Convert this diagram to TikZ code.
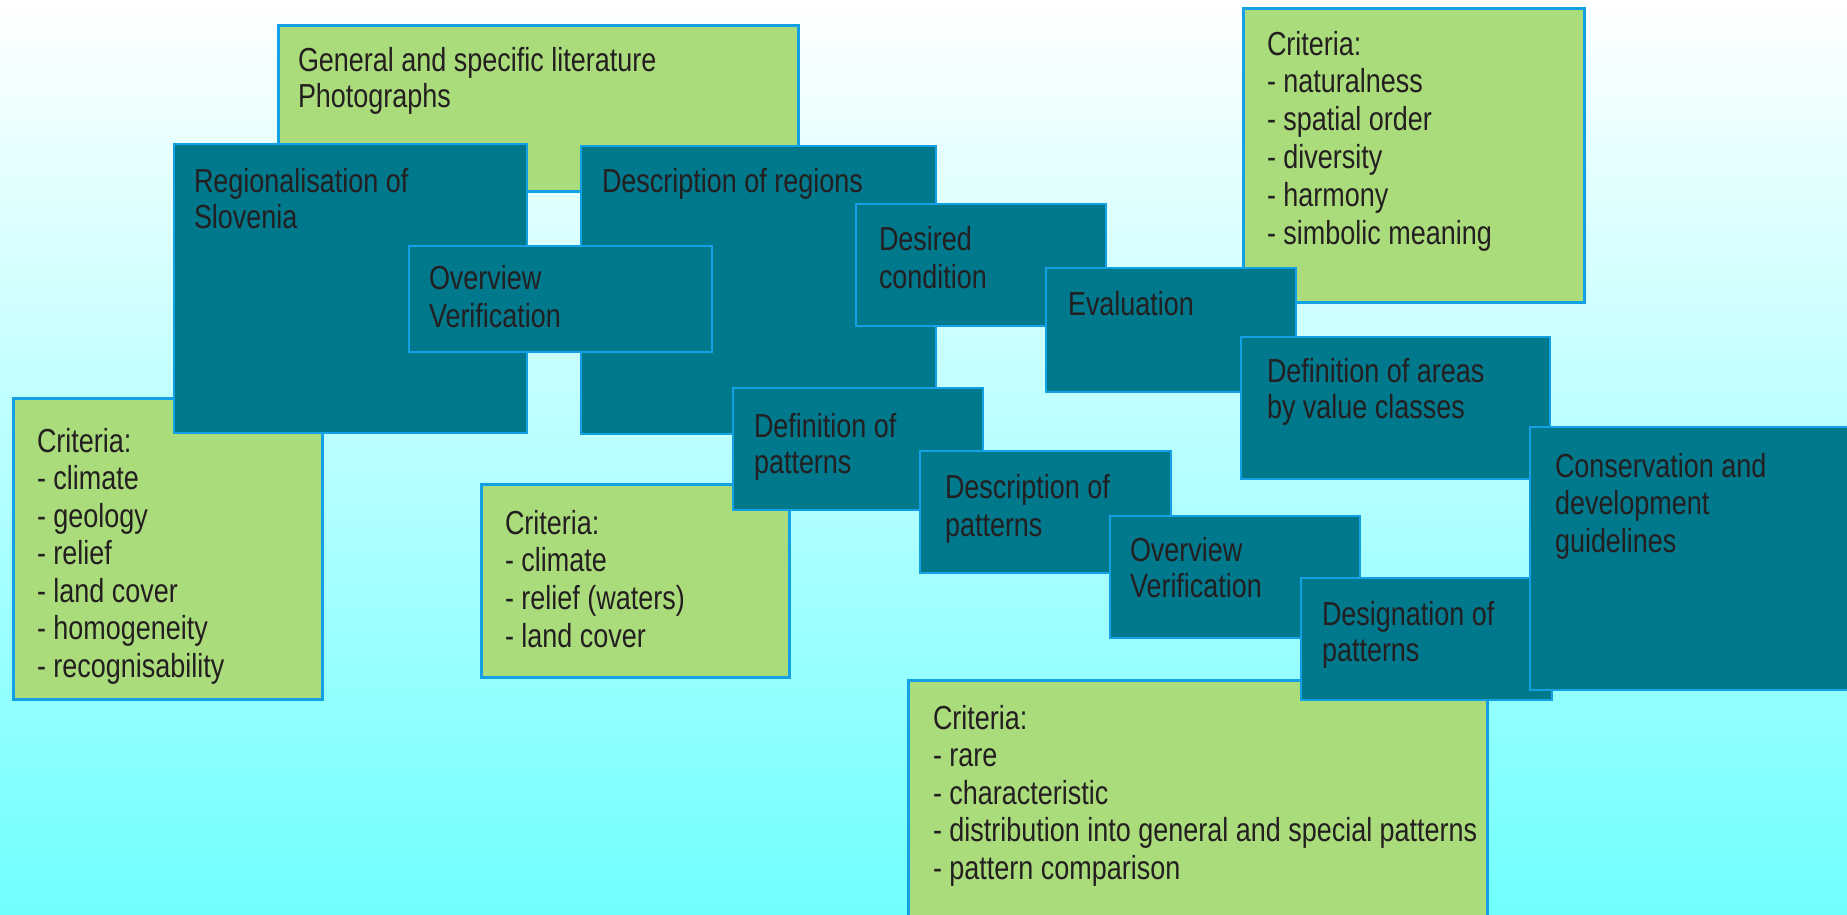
\documentclass[tikz,border=0pt]{standalone}
\usepackage{fontspec}
\setmainfont{Liberation Sans}[FakeStretch=0.81]
\definecolor{teal}{HTML}{00798D}
\definecolor{leaf}{HTML}{ABDC7B}
\definecolor{edge}{HTML}{13A0E4}
\definecolor{bgc}{HTML}{70FFFF}
\definecolor{ink}{HTML}{231F20}
\tikzset{
  greenbox/.style={draw=edge, line width=3pt, fill=leaf, inner sep=0pt, outer sep=0pt},
  tealbox/.style={draw=edge, line width=1.2pt, fill=teal, inner sep=0pt, outer sep=0pt},
  txt/.style={inner sep=0pt, outer sep=0pt, text=ink}
}
\newcommand\bx[6]{%
  \node[#1, anchor=north west, minimum width={#5-#3}, minimum height={#6-#4}] (#2) at (#3,#4) {};}
\newcommand\tx[5]{%
  \node[txt, anchor=base west] (#1-t) at ([xshift=#2pt, yshift=-#3pt]#1.north west)
    {\parbox[t]{30cm}{\fontsize{33.3}{#4}\selectfont\raggedright #5}};}
\begin{document}
\begin{tikzpicture}[x=1pt,y=-1pt]
\useasboundingbox (0,0) rectangle (1847,914);
\clip (0,0) rectangle (1847,914);
\shade[top color=white, bottom color=bgc] (0,0) rectangle (1847,914);
% green boxes
\bx{greenbox}{g1}{278}{25}{798}{191}
\tx{g1}{20}{46}{36}{General and specific literature\\Photographs}
\bx{greenbox}{g2}{1243}{8}{1584}{302}
\tx{g2}{24}{47}{37.8}{Criteria:\\- naturalness\\- spatial order\\- diversity\\- harmony\\- simbolic meaning}
\bx{greenbox}{g3}{13}{398}{322}{699}
\tx{g3}{24}{54}{37.5}{Criteria:\\- climate\\- geology\\- relief\\- land cover\\- homogeneity\\- recognisability}
\bx{greenbox}{g4}{481}{484}{789}{677}
\tx{g4}{24}{50}{37.7}{Criteria:\\- climate\\- relief (waters)\\- land cover}
\bx{greenbox}{g5}{908}{680}{1487}{940}
\tx{g5}{25}{49}{37.5}{Criteria:\\- rare\\- characteristic\\- distribution into general and special patterns\\- pattern comparison}
% teal boxes
\bx{tealbox}{t1}{174}{144}{527}{433}
\tx{t1}{20}{48}{36}{Regionalisation of\\Slovenia}
\bx{tealbox}{t2}{581}{146}{936}{434}
\tx{t2}{21}{46}{36}{Description of regions}
\bx{tealbox}{t3}{409}{246}{712}{352}
\tx{t3}{20}{43}{38}{Overview\\Verification}
\bx{tealbox}{t4}{856}{204}{1106}{326}
\tx{t4}{23}{46}{38}{Desired\\condition}
\bx{tealbox}{t5}{1046}{268}{1296}{392}
\tx{t5}{22}{47}{36}{Evaluation}
\bx{tealbox}{t6}{1241}{337}{1550}{479}
\tx{t6}{26}{45}{36}{Definition of areas\\by value classes}
\bx{tealbox}{t8}{733}{388}{983}{510}
\tx{t8}{21}{49}{36}{Definition of\\patterns}
\bx{tealbox}{t9}{920}{451}{1171}{573}
\tx{t9}{25}{47}{38}{Description of\\patterns}
\bx{tealbox}{t10}{1110}{516}{1360}{638}
\tx{t10}{20}{45}{36}{Overview\\Verification}
\bx{tealbox}{t11}{1301}{578}{1552}{700}
\tx{t11}{21}{47}{36}{Designation of\\patterns}
\bx{tealbox}{t7}{1530}{427}{1860}{690}
\tx{t7}{25}{50}{37.8}{Conservation and\\development\\guidelines}
\end{tikzpicture}
\end{document}
